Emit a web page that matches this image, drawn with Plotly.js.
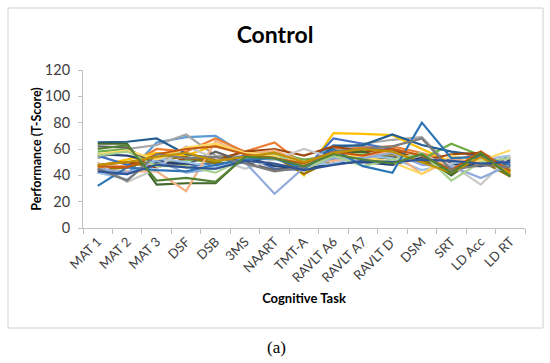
<!DOCTYPE html>
<html>
<head>
<meta charset="utf-8">
<script src="https://cdn.plot.ly/plotly-3.0.1.min.js"></script>
<style>html,body{margin:0;padding:0;background:#fff;}#chart{width:550px;height:363px;}</style>
</head>
<body>
<div id="chart"></div>
<script>
const tasks = ["MAT 1","MAT 2","MAT 3","DSF","DSB","3MS","NAART","TMT-A","RAVLT A6","RAVLT A7","RAVLT D'","DSM","SRT","LD Acc","LD RT"];

const s01 = [42,41,65,69,70,56,54,47,63,62,58,52,48,50,47];
const s02 = [46,47,60,58,68,58,65,48,60,61,62,57,50,58,44];
const s03 = [53,60,63,71,55,54,48,46,58,64,67,69,46,47,50];
const s04 = [47,52,57,55,63,57,58,40,72,71.5,70.5,60,50,52,42];
const s05 = [55,48,52,46,50,55,45,44,68,64,60,50,52,48,54];
const s06 = [58,60,48,52,50,54,57,52,55,56,54,52,64,55,44];
const s07 = [65,65.5,68,56,53,53,57,44,62,63,71,63,58,55,47];
const s08 = [48,50,46,53,52,58,60,55,62,58,60,51,56,57,47];
const s09 = [62,61,47,48,58,50,44,46,53,52,54,50,45,49,52];
const s10 = [44,46,52,54,49,52,54,41,52,54,56,51,48,51,39];
const s11 = [56,55,50,49,47,54,47,45,49,50,48,54,49,47,52];
const s12 = [64,64,33,34,34,55,55,48,57,58,52,55,40,56,40];
const s13 = [42,37,53,50,46,53,52,48,49,55,53,44,49,52,55];
const s14 = [44,43,43,28,66,56,59,50,51,55,58,41,52,50,53];
const s15 = [50,35,45,62,53,45,52,60,53,52,51,55,48,33,55];
const s16 = [56,59,52,61,64,57,55,48,56,54,50,41,55,51,59];
const s17 = [45,42,51,42,45,50,26,46,53,53,57,48,47,38,48];
const s18 = [55,58,47,47,42,53,57,44,55,47,52,57,36,50,53];
const s19 = [32,46,44,43,48,52,53,45,60,47,42,80,53,54,48];
const s20 = [47,46,56,60,62,56,53,49,58,55,60,55,44,58,43];
const s21 = [45,36,56,53,54,49,43,46,58,60,62,68,44,48,46];
const s22 = [48,50,54,57,51,54,57,50,57,60,58,50,42,54,41];
const s23 = [43,41,48,46,45,51,49,44,48,51,50,52,51,49,50];
const s24 = [60,63,36,38,35,54,53,47,56,52,49,56,42,57,39];

const seriesList = [s01,s02,s03,s04,s05,s06,s07,s08,s09,s10,s11,s12,s13,s14,s15,s16,s17,s18,s19,s20,s21,s22,s23,s24];
const colors = ["#5B9BD5","#ED7D31","#A5A5A5","#FFC000","#4472C4","#70AD47",
                "#255E91","#9E480E","#636363","#997300","#264478","#43682B",
                "#9DC3E6","#F4B183","#C9C9C9","#FFD966","#8FAADC","#A9D18E",
                "#2E75B6","#C55A11","#7B7B7B","#BF9000","#2F5597","#548235"];

const traces = seriesList.map((v,i)=>({
  type:'scatter', mode:'lines', x:tasks, y:v,
  line:{color:colors[i], width:2.2}, hoverinfo:'skip', showlegend:false
}));

// plot area in pixels
const L=83, R=525, T=70, B=228;
const px = x => (x-L)/(R-L);
const py = y => (B-y)/(B-T);

const layout = {
  width:550, height:363,
  margin:{l:L, r:550-R, t:T, b:363-B},
  paper_bgcolor:'#fff', plot_bgcolor:'#fff',
  font:{family:'Lato, "Noto Sans", sans-serif', color:'#404040', size:12},
  showlegend:false,
  title:{text:'<b>Control</b>', font:{size:23, color:'#000', family:'Lato, sans-serif'},
         x:275/550, xanchor:'center', y:1-35/363, yanchor:'middle', xref:'container', yref:'container'},
  xaxis:{type:'category', range:[-0.5,14.5], tickson:'boundaries', ticks:'outside', ticklen:5,
         tickcolor:'#BFBFBF', showline:true, linecolor:'#BFBFBF', linewidth:1, showgrid:false,
         tickangle:-45, tickfont:{size:13, color:'#404040'}, zeroline:false, fixedrange:true,
         automargin:false,
         title:{text:'<b>Cognitive Task</b>', font:{size:13, color:'#000'}, standoff:9}},
  yaxis:{range:[0,120], dtick:20, ticks:'outside', ticklen:4, tickcolor:'#BFBFBF',
         ticklabelstandoff:5,
         showline:true, linecolor:'#BFBFBF', linewidth:1, showgrid:false, zeroline:false,
         tickfont:{size:14.5, color:'#404040'}, fixedrange:true, automargin:false,
         title:{text:'<b>Performance (T-Score)</b>', font:{size:12.5, color:'#000'}, standoff:0}},
  shapes:[{type:'rect', xref:'paper', yref:'paper', x0:px(8), x1:px(543), y0:py(328), y1:py(8),
           line:{color:'#D0D0D0', width:1}, fillcolor:'rgba(0,0,0,0)', layer:'below'}],
  annotations:[{text:'(a)', xref:'paper', yref:'paper', x:px(276), y:py(347), xanchor:'center', yanchor:'middle',
                showarrow:false, font:{family:'"Liberation Serif", "DejaVu Serif", serif', size:17, color:'#000'}}]
};

Plotly.newPlot('chart', traces, layout, {displayModeBar:false, staticPlot:true});
</script>
</body>
</html>
